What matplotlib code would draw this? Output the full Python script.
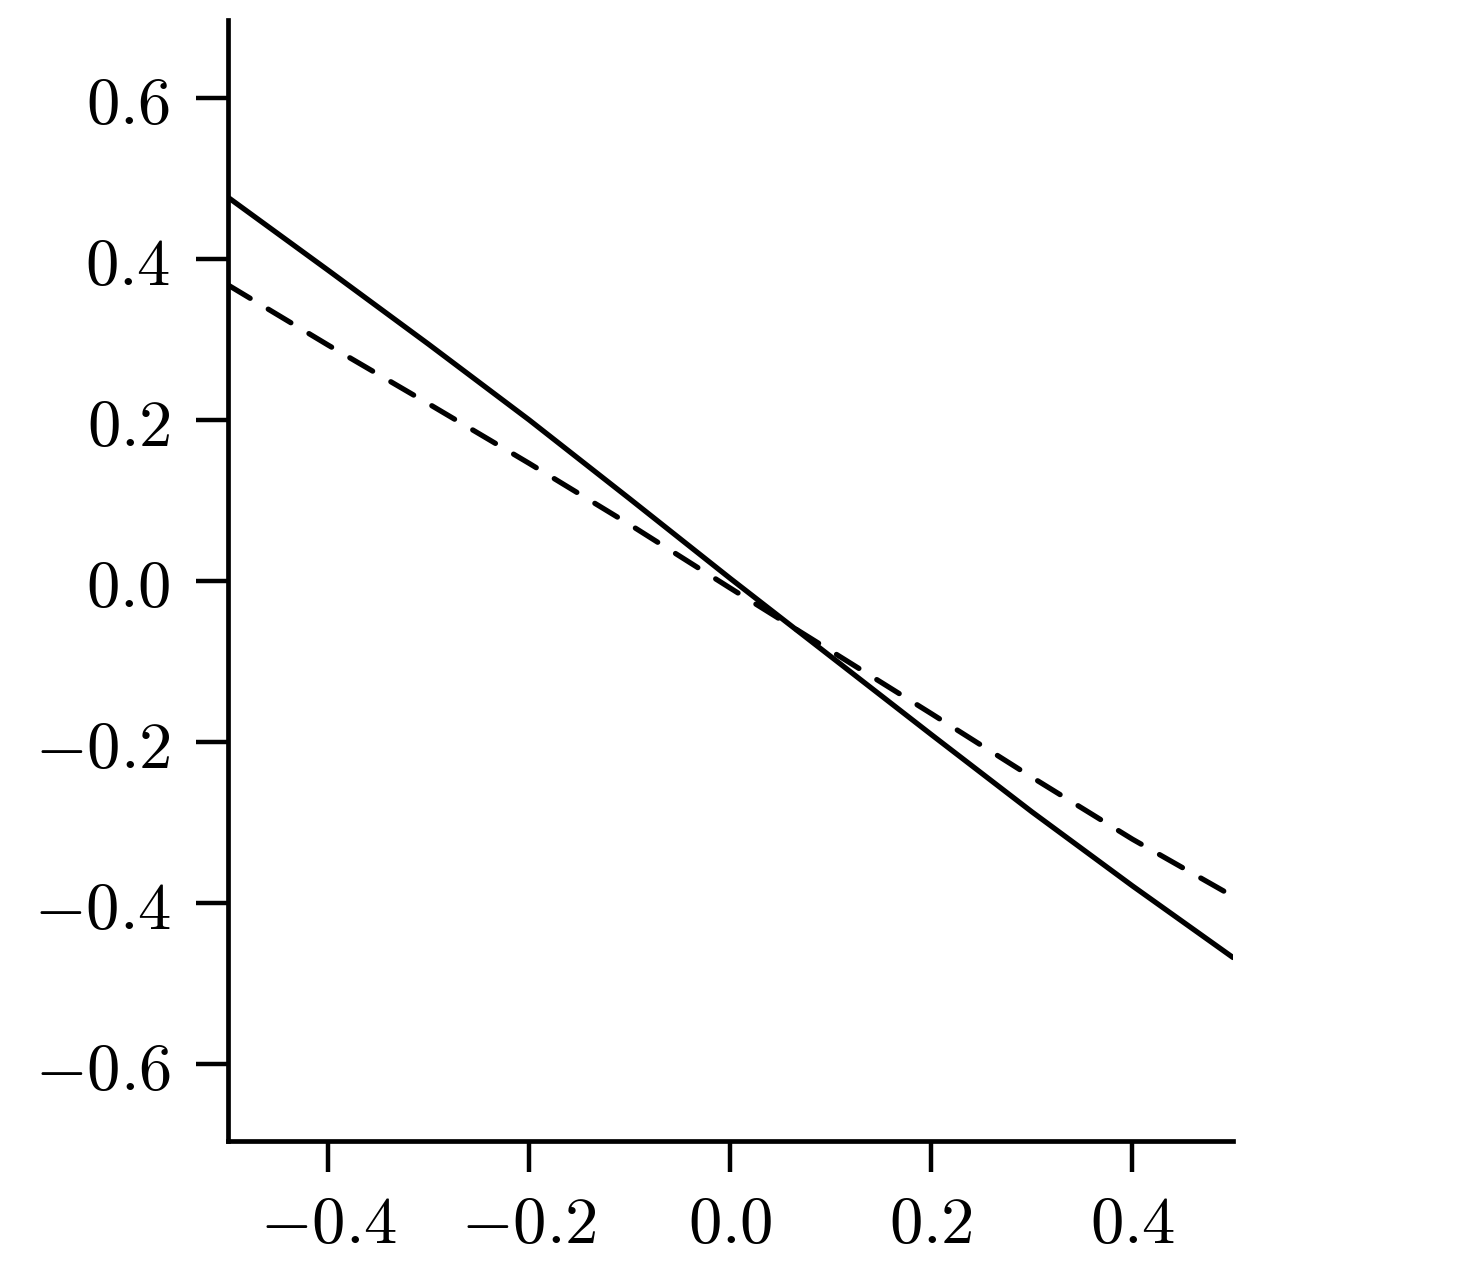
import matplotlib
matplotlib.use("Agg")
import matplotlib.pyplot as plt
from matplotlib.ticker import FuncFormatter

# Data
x_vals = [-0.5, -0.4, -0.3, -0.2, -0.1, 0.0, 0.1, 0.2, 0.3, 0.4, 0.5]
solid_vals = [0.477, 0.386, 0.294, 0.200, 0.102, 0.003, -0.094, -0.191, -0.287, -0.379, -0.468]
dashed_vals = [0.368, 0.293, 0.220, 0.146, 0.070, -0.009, -0.087, -0.165, -0.244, -0.321, -0.392]
x_ticks = [-0.4, -0.2, 0.0, 0.2, 0.4]
y_ticks = [-0.6, -0.4, -0.2, 0.0, 0.2, 0.4, 0.6]

plt.rcParams['mathtext.fontset'] = 'cm'

fig = plt.figure(figsize=(14.65, 12.70), dpi=100)
ax = fig.add_axes([0.1553, 0.1016, 0.6863, 0.8827])

ax.plot(x_vals, solid_vals, color='black', lw=3.8, solid_capstyle='round',
        solid_joinstyle='round')
ax.plot(x_vals, dashed_vals, color='black', lw=3.8, dashes=(5.0, 4.0),
        dash_capstyle='round')

ax.set_xlim(-0.5, 0.5)
ax.set_ylim(-0.696, 0.697)
ax.set_xticks(x_ticks)
ax.set_yticks(y_ticks)
fmt = FuncFormatter(lambda v, p: r'$%.1f$' % (0.0 if abs(v) < 1e-9 else v))
ax.xaxis.set_major_formatter(fmt)
ax.yaxis.set_major_formatter(fmt)

for s in ['top', 'right']:
    ax.spines[s].set_visible(False)
for s in ['left', 'bottom']:
    ax.spines[s].set_linewidth(3.4)

ax.tick_params(axis='y', direction='out', length=23, width=3.2, pad=18, labelsize=48)
ax.tick_params(axis='x', direction='out', length=22, width=3.2, pad=14, labelsize=48)

fig.savefig('out.png', dpi=100, facecolor='white')
